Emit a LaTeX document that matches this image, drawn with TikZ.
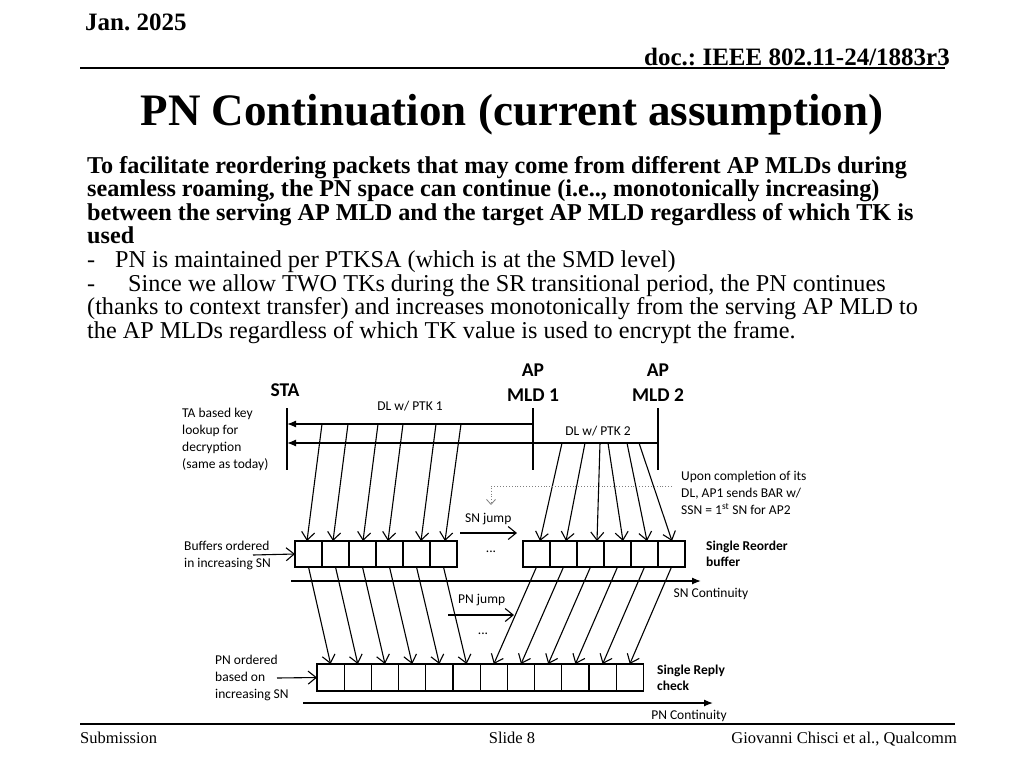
\documentclass[tikz,border=0pt]{standalone}
\usepackage{fontspec}
\setmainfont{Liberation Serif}
\newfontfamily\calfont{Carlito}
\usetikzlibrary{arrows.meta,calc}
\frenchspacing
\tikzset{
  hdr/.style={font=\bfseries\fontsize{25}{28}\selectfont, inner sep=0pt},
  ftr/.style={font=\fontsize{16.5}{19}\selectfont, inner sep=0pt},
  bodyb/.style={font=\bfseries\fontsize{24.2}{26}\selectfont, inner sep=0pt, anchor=base west},
  bodyn/.style={font=\fontsize{24.2}{26}\selectfont, inner sep=0pt, anchor=base west},
  lbl/.style={font=\calfont\fontsize{13.5}{17}\selectfont, inner sep=0pt, align=left},
  lblb/.style={font=\calfont\bfseries\fontsize{13.5}{16.5}\selectfont, inner sep=0pt, align=left},
  ent/.style={font=\calfont\bfseries\fontsize{19.5}{25}\selectfont, inner sep=0pt, align=center},
  cell/.style={draw, line width=1.2pt, minimum width=27pt, minimum height=26pt, inner sep=0pt, outer sep=0pt},
  cellb/.style={cell, minimum width=27.2pt, minimum height=27pt},
  ln/.style={line width=1.3pt},
  fa/.style={ln, -{Latex[length=9pt,width=7pt]}},
  oa/.style={line width=1.1pt, -{Straight Barb[length=8pt,width=13pt]}},
}
\begin{document}
\begin{tikzpicture}[x=1pt,y=-1pt]
\useasboundingbox (0,0) rectangle (1024,768);
\fill[white] (0,0) rectangle (1024,768);
% header
\node[hdr, anchor=base west] (date) at (85,31) {Jan. 2025};
\node[hdr, anchor=base east] (doc) at (950,66) {doc.: IEEE 802.11-24/1883r3};
\coordinate (hl) at (80,68); \coordinate (hr) at (945,68);
\draw[line width=1.5pt] (hl) -- (hr);
% title
\node[font=\bfseries\fontsize{45}{50}\selectfont, inner sep=0pt, anchor=base] (title) at (512,125) {PN Continuation (current assumption)};
% body
\node[bodyb] (t1) at (87,173) {To facilitate reordering packets that may come from different AP MLDs during};
\node[bodyb] (t2) at (87,196.6) {seamless roaming, the PN space can continue (i.e.., monotonically increasing)};
\node[bodyb] (t3) at (87,220.2) {between the serving AP MLD and the target AP MLD regardless of which TK is};
\node[bodyb] (t4) at (87,243.8) {used};
\node[bodyn] (t5) at (87,267.4) {\makebox[28pt][l]{-}PN is maintained per PTKSA (which is at the SMD level)};
\node[bodyn] (t6) at (87,291) {\makebox[41pt][l]{-}Since we allow TWO TKs during the SR transitional period, the PN continues};
\node[bodyn] (t7) at (87,314.6) {(thanks to context transfer) and increases monotonically from the serving AP MLD to};
\node[bodyn] (t8) at (87,338.2) {the AP MLDs regardless of which TK value is used to encrypt the frame.};
% footer
\coordinate (fl) at (80,724); \coordinate (fr) at (955,724);
\draw[line width=1.5pt] (fl) -- (fr);
\node[ftr, anchor=base west] (sub) at (80,743) {Submission};
\node[ftr, anchor=base] (slide) at (512,743) {Slide 8};
\node[ftr, anchor=base east] (auth) at (957,743) {Giovanni Chisci et al., Qualcomm};

% entities
\node[ent] (sta) at (285,390) {STA};
\node[ent] (ap1) at (533,382.5) {AP\\MLD 1};
\node[ent] (ap2) at (658,382.5) {AP\\MLD 2};
\coordinate (staT) at (287,408); \coordinate (staB) at (287,470);
\coordinate (ap1T) at (533,408); \coordinate (ap1B) at (533,470);
\coordinate (ap2T) at (658,408); \coordinate (ap2B) at (658,470);
\draw[ln] (staT) -- (staB);
\draw[ln] (ap1T) -- (ap1B);
\draw[ln] (ap2T) -- (ap2B);
\coordinate (s1) at (287,424); \coordinate (a1) at (533,424);
\coordinate (s2) at (287,443); \coordinate (a2) at (658,443);
\draw[fa] (a1) -- (s1);
\draw[fa] (a2) -- (s2);
\node[lbl] (ptk1) at (410,406) {DL w/ PTK 1};
\node[lbl] (ptk2) at (598,431) {DL w/ PTK 2};
\node[lbl, anchor=west] (ta) at (182,439.5) {TA based key\\lookup for\\decryption\\(same as today)};

% row 1 boxes
\foreach \i in {1,...,6}{
  \node[cell] (L\i) at ({295+27*(\i-0.5)},554) {};
  \node[cell] (R\i) at ({523+27*(\i-0.5)},554) {};
}
% row 2 boxes
\foreach \i in {1,...,12}{
  \node[cellb] (B\i) at ({317+27.2*(\i-0.5)},677.5) {};
}
% top slanted arrows (PTK1)
\foreach \i/\sx/\dx in {1/322/-1.5,2/348/-2.5,3/378/0.5,4/403/-1.5,5/436/4.5,6/461/1.5}{
  \coordinate (p\i) at (\sx,424);
  \draw[oa] (p\i) -- ($(L\i.north)+(\dx,0)$);
}
% top slanted arrows (PTK2)
\foreach \i/\sx/\dx in {1/562/3.5,2/585/2.5,3/600/6.5,4/608/5.5,5/627/2.5,6/639/0.5}{
  \coordinate (q\i) at (\sx,443);
  \draw[oa] (q\i) -- ($(R\i.north)+(\dx,0)$);
}
% row1 -> row2
\foreach \i in {1,...,6}{
  \draw[oa] (L\i.south) -- (B\i.north);
}
\foreach \i/\j in {1/7,2/8,3/9,4/10,5/11,6/12}{
  \draw[oa] (R\i.south) -- (B\j.north);
}
% dotted BAR indication
\coordinate (d1) at (672,486); \coordinate (d2) at (491,486); \coordinate (d3) at (491,505);
\draw[gray, line width=0.9pt, dotted, -{Straight Barb[length=5pt,width=9pt,line width=0.8pt]}] (d1) -- (d2) -- (d3);
\node[lbl, anchor=west] (upon) at (681,493) {Upon completion of its\\DL, AP1 sends BAR w/\\SSN = 1\textsuperscript{st} SN for AP2};
% SN jump
\node[lbl, anchor=west] (snj) at (465,519) {SN jump};
\coordinate (sj1) at (460,533); \coordinate (sj2) at (517,533);
\draw[oa] (sj1) -- (sj2);
\node[lbl] (dots1) at (491,552) {...};
% buffers label
\node[lbl, anchor=west] (buf) at (184,555) {Buffers ordered\\in increasing SN};
\coordinate (bufa) at (253,555);
\draw[oa] (bufa) -- (L1.west);
\node[lblb, anchor=west] (sro) at (706,554) {Single Reorder\\buffer};
% SN continuity
\coordinate (sc1) at (291,581); \coordinate (sc2) at (701,581);
\draw[fa] (sc1) -- (sc2);
\node[lbl] (snc) at (711,594) {SN Continuity};
% PN jump
\node[lbl, anchor=west] (pnj) at (458,600) {PN jump};
\coordinate (pj1) at (448,615); \coordinate (pj2) at (514,615);
\draw[oa] (pj1) -- (pj2);
\node[lbl] (dots2) at (483,634) {...};
% PN ordered label
\node[lbl, anchor=west] (pno) at (215,678) {PN ordered\\based on\\increasing SN};
\coordinate (pnoa) at (277,678);
\draw[oa] (pnoa) -- (B1.west);
\node[lblb, anchor=west] (srp) at (657,678) {Single Reply\\check};
% PN continuity
\coordinate (pc1) at (303,703); \coordinate (pc2) at (713,703);
\draw[fa] (pc1) -- (pc2);
\node[lbl] (pnc) at (689,716) {PN Continuity};
\end{tikzpicture}
\end{document}
